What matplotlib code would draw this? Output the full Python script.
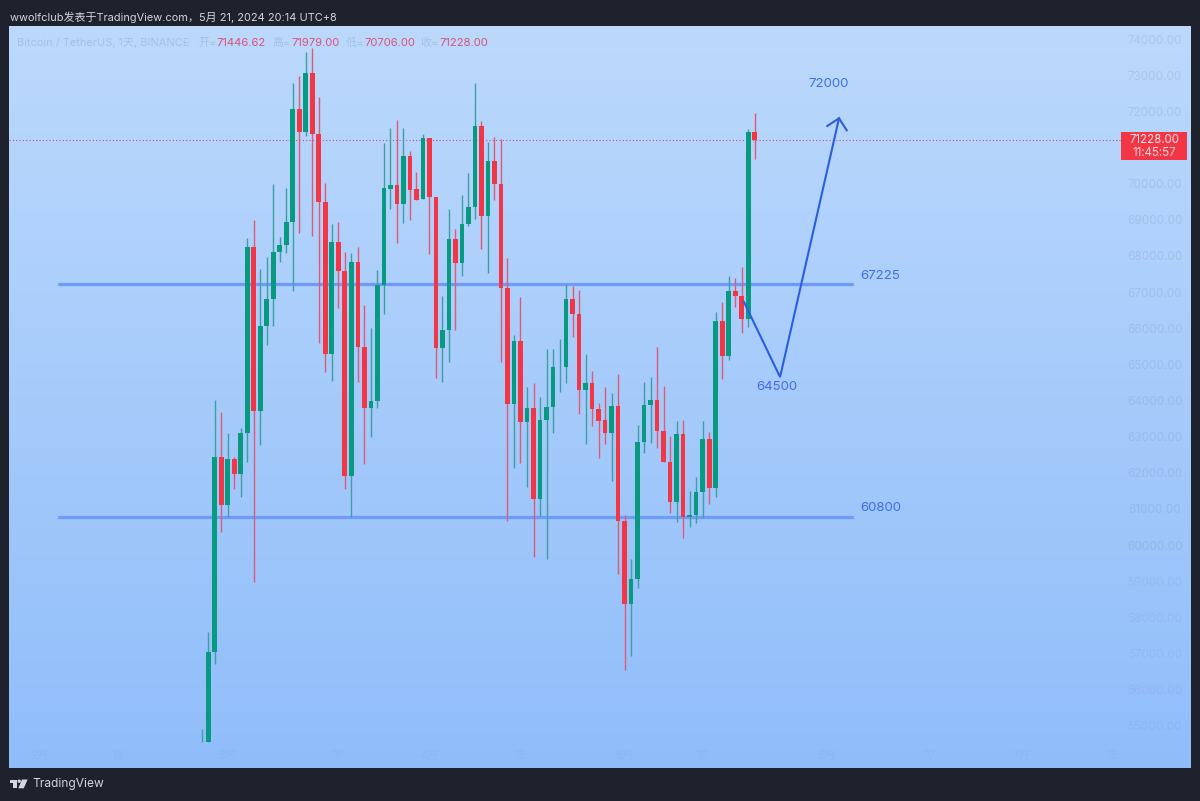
import numpy as np
import matplotlib
matplotlib.use('Agg')
import matplotlib.pyplot as plt
from matplotlib.colors import LinearSegmentedColormap
from matplotlib.patches import Polygon, Rectangle, Circle

# daily candles, BTCUSDT
opens = [54570, 54570, 57044, 62440, 61120, 62392, 61986, 63120, 68250, 63721, 66081, 66820, 68128, 68314, 68959,
         72077, 71441, 73065, 71377, 69495, 65298, 68389, 67603, 61930, 67852, 65500, 63795, 63997, 67207, 69872,
         69982, 69448, 70776, 69855, 69578, 71275, 69650, 65472, 65962, 68488, 67808, 68887, 69357, 71615, 69125,
         70630, 70002, 67116, 63914, 65666, 63416, 63795, 61277, 63472, 63831, 64930, 64938, 66820, 66405, 64293,
         64504, 63768, 63472, 63120, 63867, 60685, 58372, 59072, 62871, 63887, 64025, 63159, 62309, 61194, 63076,
         60796, 60835, 61488, 62946, 61582, 66211, 65234, 67033, 66911, 66266, 71446.62]
highs = [54922, 57597, 64025, 63693, 63104, 62440, 63242, 68499, 69006, 67641, 67990, 69993, 68543, 69883, 72788,
         72998, 73646, 73757, 72417, 70038, 68895, 68959, 68128, 68101, 68250, 66654, 66009, 67622, 71144, 71560,
         71773, 71543, 70923, 70325, 71377, 71275, 69650, 66903, 69302, 68748, 69697, 70314, 72788, 71753, 71172,
         71310, 71239, 67946, 65824, 66867, 64376, 64487, 64116, 65444, 65428, 65704, 67235, 67179, 67069, 65298,
         64827, 63934, 64376, 64227, 64736, 60843, 59617, 63333, 64531, 64653, 65500, 64421, 63029, 63444, 63472,
         61515, 61903, 63444, 63131, 66452, 66745, 67456, 67409, 67697, 71524, 71979]
lows = [54570, 54570, 56720, 60381, 60796, 61571, 61333, 62318, 58997, 62780, 65547, 66081, 67852, 68101, 67049,
        68638, 71330, 68571, 65610, 64792, 64559, 66562, 61562, 60796, 64531, 62254, 63009, 63795, 66405, 69302,
        68361, 68914, 69006, 69559, 69578, 68065, 64634, 64523, 65085, 65962, 67456, 68840, 69042, 68203, 67531,
        69559, 65085, 60685, 62152, 62290, 61609, 59689, 60815, 59617, 63104, 64255, 64504, 65777, 63629, 62808,
        63306, 62412, 62799, 61784, 59210, 56554, 56941, 58831, 62550, 62843, 62705, 62301, 60907, 60658, 60215,
        60503, 60630, 60768, 61147, 61333, 64614, 65124, 66607, 65871, 66053, 70706]
closes = [54570, 57044, 62440, 61120, 62392, 61977, 63120, 68250, 63721, 66081, 66820, 68128, 68314, 68959, 72077,
          71441, 73065, 71377, 69495, 65298, 68389, 67603, 61930, 67852, 65500, 63795, 63997, 67207, 69883, 69982,
          69448, 70776, 69836, 69559, 71275, 69642, 65472, 65962, 68488, 67808, 68895, 69365, 71615, 69125, 70630,
          70002, 67116, 63914, 65666, 63416, 63795, 61277, 63472, 63823, 64930, 64946, 66820, 66405, 64293, 64504,
          63776, 63452, 63120, 63867, 60685, 58372, 59072, 62871, 63887, 64025, 63159, 62301, 61194, 63084, 60796,
          60835, 61488, 62946, 61582, 66211, 65234, 67033, 66903, 66266, 71446.62, 71228]

# 71000 is hidden behind the last price box
price_ticks = [p for p in range(55000, 75000, 1000) if p != 71000]
date_ticks = [-25, -13, 4, 21, 35, 49, 65, 77, 96, 112, 126, 140]
date_labels = ['2月', '13', '3月', '18', '4月', '15', '5月', '13', '6月', '17', '7月', '15']

# drawings on the chart
support_levels = [67225, 60800]
path_days = [83.35, 88.9, 97.96]
path_prices = [66737, 64661, 71820]
head_days = [96.16, 97.96, 99.14]
head_prices = [71607, 71820, 71488]
last_price = 71228

BG = '#1e222d'
UP = '#089981'
DOWN = '#f23645'
UP_WICK = '#3c9fa3'
DOWN_WICK = '#de5a76'
LEVEL = '#6f9bf8'
PATH = '#2b5de0'
NOTE = '#3f6fe0'
AXIS_TXT = '#6b7f9e'
FONT = ['Inter', 'Noto Sans CJK SC', 'DejaVu Sans']

plt.rcParams['font.family'] = FONT

fig = plt.figure(figsize=(12, 8.01), dpi=100, facecolor=BG)
W, H = 1200, 801
left, right, top, bottom = 9, 1190.5, 25.5, 768

ax = fig.add_axes([left / W, 1 - bottom / H, (right - left) / W, (bottom - top) / H])
cmap = LinearSegmentedColormap.from_list('bg', ['#bcd9fc', '#a6cbfb', '#90bdfa'])
ax.imshow(np.linspace(0, 1, 256).reshape(-1, 1), cmap=cmap, extent=[0, 1, 0, 1],
          transform=ax.transAxes, aspect='auto', zorder=0)

# bar 0 sits at x=201.7px, 6.506px per day; 27.67 dollars per px
x0, step = 201.7, 6.506
ax.set_xlim((left - x0) / step, (right - x0) / step)
ax.set_ylim(75093 - 27.67 * bottom, 75093 - 27.67 * top)
ax.axis('off')

days = np.arange(len(opens))
o, h, l, c = map(np.array, (opens, highs, lows, closes))
is_up = c >= o

ax.hlines(support_levels, -22.0, 100.0, color=LEVEL, lw=2.3, capstyle='round', zorder=1)
ax.plot([(left - x0) / step, (1121 - x0) / step], [last_price, last_price], color='#c9507a',
        lw=0.8, ls=(0, (1, 2)), zorder=1)

ax.vlines(days[is_up], l[is_up], h[is_up], color=UP_WICK, lw=1.0, zorder=2)
ax.vlines(days[~is_up], l[~is_up], h[~is_up], color=DOWN_WICK, lw=1.0, zorder=2)
ax.bar(days[is_up], (c - o)[is_up], bottom=o[is_up], width=0.72, color=UP, zorder=3)
ax.bar(days[~is_up], (o - c)[~is_up], bottom=c[~is_up], width=0.72, color=DOWN, zorder=3)

ax.plot(path_days, path_prices, color=PATH, lw=1.5, solid_joinstyle='miter', zorder=4)
ax.plot(head_days, head_prices, color=PATH, lw=1.5, solid_joinstyle='miter', zorder=4)

ax.text(96.4, 72780, '72000', color=NOTE, fontsize=9.5, ha='center', va='center', zorder=5)
ax.text(104.3, 67450, '67225', color=NOTE, fontsize=9.5, ha='center', va='center', zorder=5)
ax.text(104.3, 61050, '60800', color=NOTE, fontsize=9.5, ha='center', va='center', zorder=5)
ax.text(88.4, 64380, '64500', color=NOTE, fontsize=9.5, ha='center', va='center', zorder=5)

# axis labels are very faint, drawn inside the panel
axis_x = (1155 - x0) / step
for p in price_ticks:
    a = 0.2 if p >= 60000 else 0.12
    ax.text(axis_x, p - 30, f'{p}.00', color=AXIS_TXT, alpha=a, fontsize=8.4, ha='center', va='center', zorder=5)
for d, lab in zip(date_ticks, date_labels):
    ax.text(d, 75093 - 27.67 * 756, lab, color=AXIS_TXT, alpha=0.1, fontsize=8.4, ha='center', va='center', zorder=5)

# overlay in screen pixels for the widget chrome
ov = fig.add_axes([0, 0, 1, 1], zorder=10)
ov.set_xlim(0, W)
ov.set_ylim(H, 0)
ov.axis('off')

ov.text(9.5, 17.5, 'wwolfclub发表于TradingView.com，5月 21, 2024 20:14 UTC+8', color='#d4d6dc',
        fontsize=7.9, va='center')

faint = '#a5c1e2'
val = '#d9527a'
ov.text(17, 42.5, 'Bitcoin / TetherUS, 1天, BINANCE', color=faint, fontsize=7.9, va='center')
for lx, label, vx, value in [(198, '开=', 216, '71446.62'), (272.7, '高=', 291, '71979.00'),
                             (345.7, '低=', 364, '70706.00'), (420.7, '收=', 439, '71228.00')]:
    ov.text(lx, 42.5, label, color=faint, fontsize=7.9, va='center')
    ov.text(vx, 42.5, value, color=val, fontsize=8.1, va='center')

ov.add_patch(Rectangle((1121, 131.7), 66, 28.6, color=DOWN, lw=0))
ov.text(1154, 140, '71228.00', color='#fbe4e8', fontsize=8.3, ha='center', va='center')
ov.text(1154, 153, '11:45:57', color='#fbd5da', fontsize=8.3, ha='center', va='center')

# TradingView logo
logo = '#d4d6dc'
ov.add_patch(Polygon([(9.5, 779.5), (17, 779.5), (17, 788.3), (13, 788.3), (13, 783), (9.5, 783)], color=logo, lw=0))
ov.add_patch(Circle((19.2, 781.2), 1.7, color=logo, lw=0))
ov.add_patch(Polygon([(22, 779.5), (27.6, 779.5), (23.8, 788.3), (18.3, 788.3)], color=logo, lw=0))
ov.text(32, 783.5, 'TradingView', color='#d4d6dc', fontsize=8.6, va='center')

fig.savefig('out.png', dpi=100, facecolor=BG)
